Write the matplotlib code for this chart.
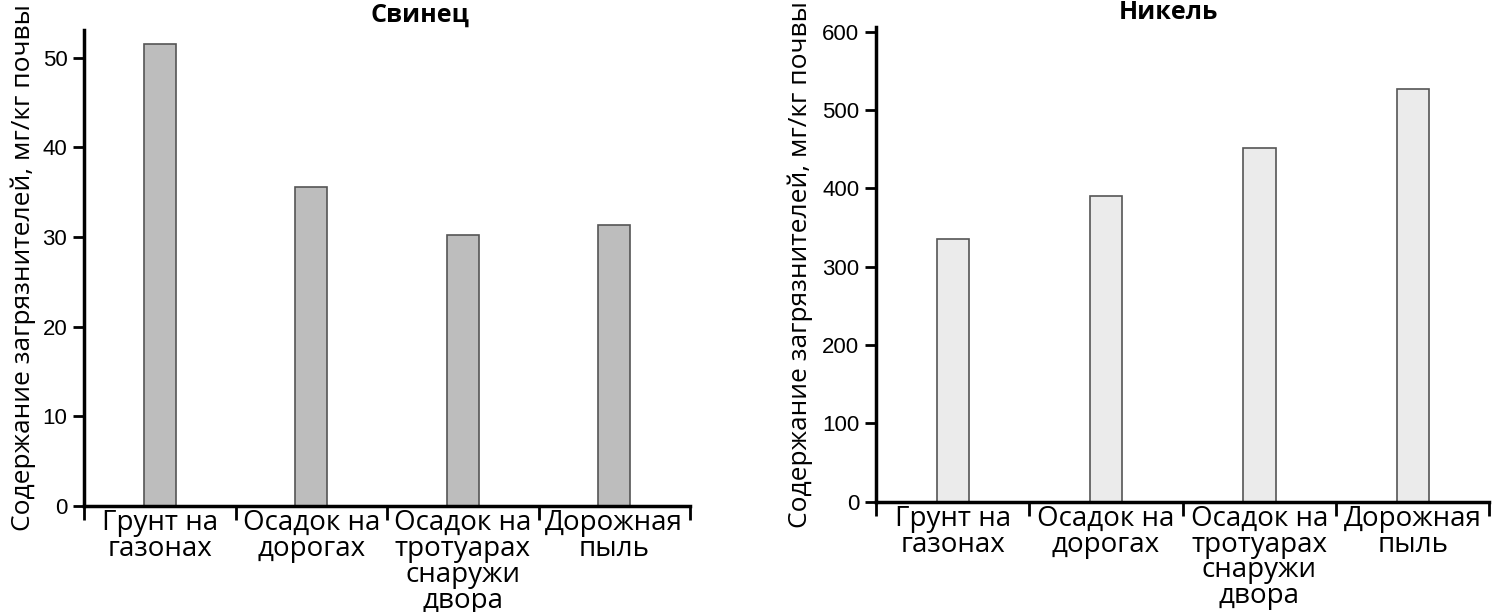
import matplotlib.pyplot as plt
import numpy as np

categories = ['Грунт на\nгазонах', 'Осадок на\nдорогах', 'Осадок на\nтротуарах\nснаружи\nдвора', 'Дорожная\nпыль']
lead = [51.5, 35.6, 30.2, 31.4]
nickel = [336, 390, 452, 527]
ylabel = 'Содержание загрязнителей, мг/кг почвы'

plt.rcParams['font.family'] = ['Open Sans', 'DejaVu Sans']

fig = plt.figure(figsize=(15, 6.12), dpi=100)
ax1 = fig.add_axes([0.056, 0.173, 0.404, 0.778])
ax2 = fig.add_axes([0.584, 0.180, 0.409, 0.776])


def draw(ax, values, title, color, yticks, ymax, title_x, label_x):
    x = np.arange(len(values))
    ax.bar(x, values, width=0.21, color=color, edgecolor='#555555', linewidth=1.2, zorder=2)
    ax.set_xlim(-0.5, len(values) - 0.5)
    ax.set_ylim(0, ymax)
    ax.set_yticks(yticks)
    ax.set_yticklabels([str(t) for t in yticks], family='Liberation Sans', fontsize=16)
    ax.set_xticks(x)
    ax.set_xticklabels(categories, fontsize=20, linespacing=0.9)
    ax.set_xticks(np.arange(len(values) + 1) - 0.5, minor=True)
    ax.tick_params(axis='x', which='major', length=0, pad=2)
    ax.tick_params(axis='x', which='minor', length=10, width=2, direction='out')
    ax.tick_params(axis='y', length=8, width=2, direction='out', pad=4)
    for s in ['top', 'right']:
        ax.spines[s].set_visible(False)
    for s in ['left', 'bottom']:
        ax.spines[s].set_linewidth(2.5)
    ax.set_ylabel(ylabel, fontsize=19)
    ax.yaxis.set_label_coords(label_x, 0.5)
    ax.set_title(title, fontsize=18, fontweight='bold', x=title_x, y=1.0, pad=6)


draw(ax1, lead, 'Свинец', '#bdbdbd', [0, 10, 20, 30, 40, 50], 53.1, 0.554, -0.079)
draw(ax2, nickel, 'Никель', '#ebebeb', [0, 100, 200, 300, 400, 500, 600], 606, 0.476, -0.103)

fig.savefig('out.png', dpi=100)
